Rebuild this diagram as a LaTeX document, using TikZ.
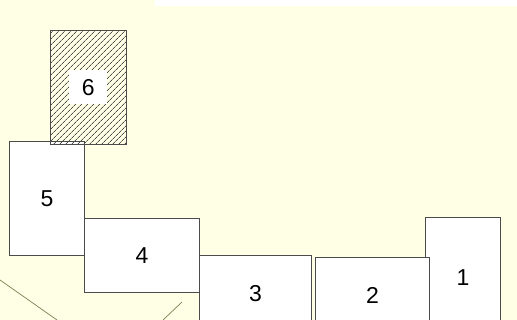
\documentclass[tikz,border=0pt]{standalone}
\usepackage{fontspec}
\setmainfont{Liberation Sans}
\usetikzlibrary{patterns.meta}
\definecolor{paper}{RGB}{255,255,230}
\definecolor{edgegray}{RGB}{75,75,75}
\definecolor{wire}{RGB}{130,125,85}
\tikzset{
  slot/.style={draw=edgegray,line width=1pt,fill=white,anchor=north west,inner sep=0pt,
    font=\fontsize{23}{23}\selectfont},
  hatched/.style={pattern={Lines[angle=45,distance=4pt,line width=0.75pt]},pattern color=edgegray},
}
\begin{document}
\begin{tikzpicture}[x=1pt,y=-1pt]
\useasboundingbox (0,0) rectangle (517,320);
\clip (0,0) rectangle (517,320);
\fill[paper] (0,0) rectangle (517,320);
\fill[white] (155,0) rectangle (517,6);

% thin lines at the lower left
\coordinate (wireAa) at (0,280);
\coordinate (wireAb) at (57,320);
\coordinate (wireBa) at (182,302);
\coordinate (wireBb) at (163,320);
\draw[wire,line width=0.7pt] (wireAa) -- (wireAb);
\draw[wire,line width=0.7pt] (wireBa) -- (wireBb);

% the six boxes
\node[slot,minimum width=75pt,minimum height=120pt] (one) at (425,217) {1};
\node[slot,minimum width=114pt,minimum height=76pt] (two) at (315,257) {2};
\node[slot,minimum width=112pt,minimum height=76pt] (three) at (199,255) {3};
\node[slot,minimum width=115pt,minimum height=74pt] (four) at (84,218) {4};
\node[slot,minimum width=75pt,minimum height=114pt] (five) at (9,141) {5};
\node[slot,hatched,minimum width=76pt,minimum height=114pt] (six) at (50,30) {};
\node[fill=white,inner sep=0pt,minimum width=38pt,minimum height=34pt,
  font=\fontsize{23}{23}\selectfont] (sixlabel) at (six.center) {6};
\end{tikzpicture}
\end{document}
